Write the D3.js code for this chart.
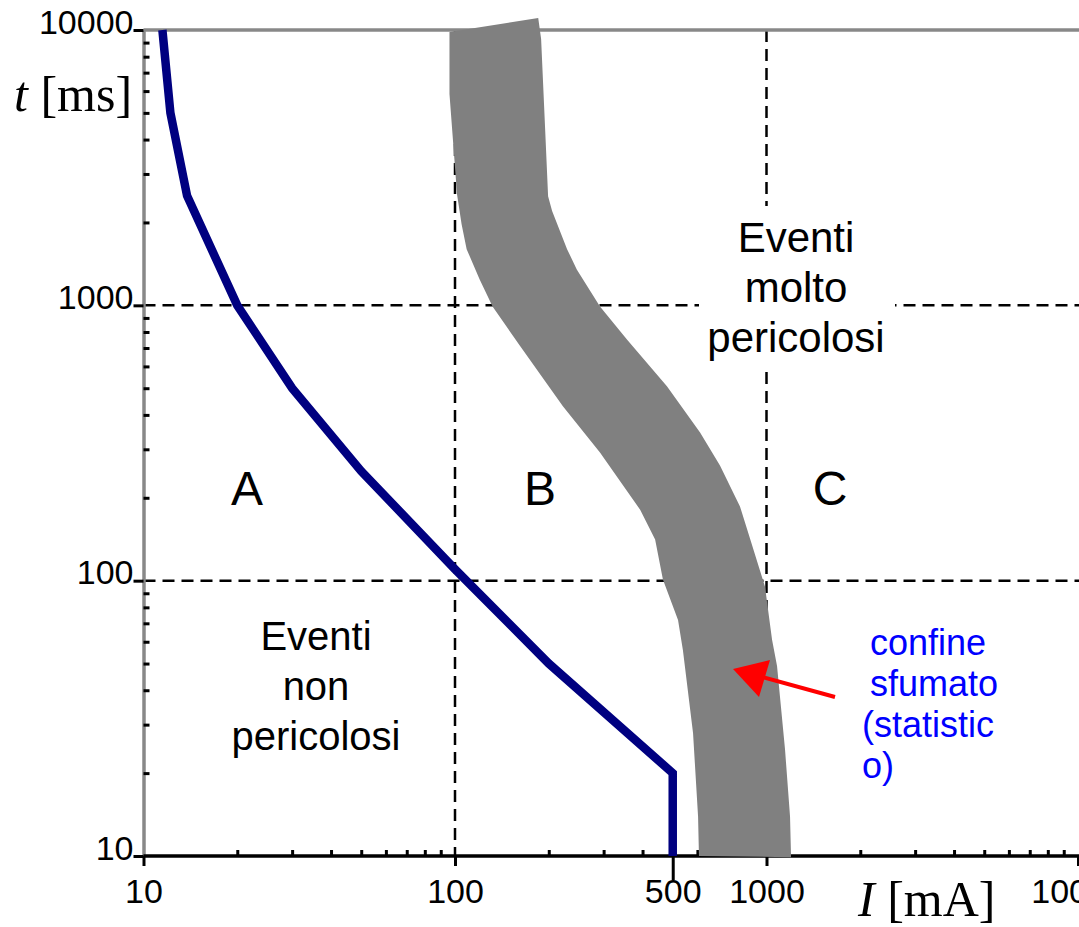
<!DOCTYPE html>
<html>
<head>
<meta charset="utf-8">
<script src="https://cdn.jsdelivr.net/npm/d3@7"></script>
<style>
  html, body { margin: 0; padding: 0; background: #fff; }
  svg { display: block; }
  .sans { font-family: "Liberation Sans", Arial, Helvetica, sans-serif; }
  .serif { font-family: "Liberation Serif", "Times New Roman", serif; }
</style>
</head>
<body>
<div id="chart"></div>
<script>
"use strict";
// curva di sicurezza (I in mA, t in ms)
const curveI = [11.5, 12.2, 13.8, 20, 30, 50, 100, 200, 500, 500];
const curveT = [10000, 5000, 2500, 1000, 500, 250, 110, 50, 20, 10];

// confine sfumato: bordo sinistro e bordo destro della fascia grigia
const bandLeftI = [96, 96, 99, 101.5, 105, 109, 120, 132, 162, 222, 292, 393, 439, 465, 520, 539, 581, 603, 607];
const bandLeftT = [9840, 5850, 3690, 2530, 1970, 1600, 1240, 990, 710, 430, 292, 181, 141, 101, 72, 56, 28, 13.9, 10];
const bandRightI = [185, 189, 194.5, 199, 205, 229, 246, 292, 357, 479, 612, 709, 822, 898, 989, 1042, 1081, 1147, 1190, 1199];
const bandRightT = [11060, 9280, 4480, 2490, 2200, 1600, 1350, 990, 750, 508, 345, 262, 186, 135, 95, 61, 49, 24.3, 13.9, 9.9];

// assi
const xMajor = [10, 100, 500, 1000, 10000];
const yMajor = [10, 100, 1000, 10000];
const xGrid = [100, 1000];
const yGrid = [100, 1000];

const W = 1079, H = 927;
const svg = d3.select("#chart").append("svg")
    .attr("width", W)
    .attr("height", H)
    .attr("viewBox", `0 0 ${W} ${H}`);

const x = d3.scaleLog().domain([10, 10000]).range([143.5, 1078]);
const y = d3.scaleLog().domain([10, 10000]).range([856, 30]);

const xMinor = x.ticks().filter(d => !xMajor.includes(d));
const yMinor = y.ticks().filter(d => !yMajor.includes(d));

// griglia tratteggiata
svg.append("g").selectAll("line").data(xGrid).join("line")
    .attr("x1", d => x(d)).attr("x2", d => x(d))
    .attr("y1", y(10000)).attr("y2", y(10))
    .attr("stroke", "#000").attr("stroke-width", 2.5).attr("stroke-dasharray", "12 7");
svg.append("g").selectAll("line").data(yGrid).join("line")
    .attr("x1", x(10)).attr("x2", W)
    .attr("y1", d => y(d)).attr("y2", d => y(d))
    .attr("stroke", "#000").attr("stroke-width", 2.5).attr("stroke-dasharray", "12 7");

// linea superiore grigia
svg.append("line")
    .attr("x1", x(10)).attr("x2", W)
    .attr("y1", y(10000)).attr("y2", y(10000))
    .attr("stroke", "#888").attr("stroke-width", 3.5);

// asse y
const yAxis = svg.append("g")
    .attr("class", "sans")
    .attr("transform", `translate(${x(10)},0)`)
    .call(d3.axisLeft(y).tickValues(yMajor).tickFormat(d3.format("d")).tickSize(10).tickSizeOuter(0));
yAxis.select(".domain").attr("stroke", "#888").attr("stroke-width", 3.5);
yAxis.selectAll(".tick line").attr("stroke-width", 3);
yAxis.selectAll(".tick text")
    .attr("x", -10).attr("dy", null).attr("y", 3)
    .attr("font-size", 34).attr("fill", "#000");
yAxis.attr("font-family", null);

svg.append("g")
    .attr("transform", `translate(${x(10)},0)`)
    .call(d3.axisRight(y).tickValues(yMinor).tickFormat("").tickSize(6).tickSizeOuter(0))
    .call(g => g.select(".domain").remove())
    .selectAll(".tick line").attr("stroke-width", 3);

// asse x
const xAxis = svg.append("g")
    .attr("class", "sans")
    .attr("transform", `translate(0,${y(10)})`)
    .call(d3.axisBottom(x).tickValues(xMajor).tickFormat(d3.format("d")).tickSize(10).tickSizeOuter(0));
xAxis.select(".domain").attr("stroke", "#000").attr("stroke-width", 3.5)
    .attr("d", `M${x(10)},0H${W}`);
xAxis.selectAll(".tick line").attr("stroke-width", 3)
    .attr("y2", d => d === 500 ? 24 : 10);
xAxis.selectAll(".tick text")
    .attr("y", 47).attr("dy", null)
    .attr("font-size", 34).attr("fill", "#000");
xAxis.attr("font-family", null);

svg.append("g")
    .attr("transform", `translate(0,${y(10)})`)
    .call(d3.axisTop(x).tickValues(xMinor).tickFormat("").tickSize(6).tickSizeOuter(0))
    .call(g => g.select(".domain").remove())
    .selectAll(".tick line").attr("stroke-width", 3);

// titoli assi
svg.append("text").attr("class", "serif")
    .attr("x", 14).attr("y", 111).attr("font-size", 50)
    .call(t => {
        t.append("tspan").attr("font-style", "italic").text("t");
        t.append("tspan").text(" [ms]");
    });
svg.append("text").attr("class", "serif")
    .attr("x", 858).attr("y", 916).attr("font-size", 50)
    .call(t => {
        t.append("tspan").attr("font-style", "italic").text("I");
        t.append("tspan").text(" [mA]");
    });

// fascia grigia
const bandPts = d3.zip(bandLeftI, bandLeftT)
    .concat(d3.zip(bandRightI, bandRightT).reverse());
svg.append("path")
    .attr("d", d3.line().x(d => x(d[0])).y(d => y(d[1]))(bandPts) + "Z")
    .attr("fill", "#808080");

// curva blu
svg.append("path")
    .datum(d3.zip(curveI, curveT))
    .attr("d", d3.line().x(d => x(d[0])).y(d => y(d[1])))
    .attr("fill", "none")
    .attr("stroke", "#000080")
    .attr("stroke-width", 8.5)
    .attr("stroke-linejoin", "miter");

// etichette delle zone
svg.append("rect")
    .attr("x", 699).attr("y", 206).attr("width", 196).attr("height", 166)
    .attr("fill", "#fff");

function multiline(lines, cx, y0, step, size, color) {
    svg.append("g").attr("class", "sans")
        .selectAll("text").data(lines).join("text")
        .attr("x", cx).attr("y", (d, i) => y0 + i * step)
        .attr("text-anchor", "middle")
        .attr("font-size", size)
        .attr("fill", color)
        .text(d => d);
}
multiline(["Eventi", "molto", "pericolosi"], 796, 252, 50, 42, "#000");
multiline(["Eventi", "non", "pericolosi"], 316, 650, 50, 40, "#000");
multiline(["A"], 247, 505, 0, 48, "#000");
multiline(["B"], 540, 505, 0, 48, "#000");
multiline(["C"], 830, 505, 0, 48, "#000");

const noteLines = ["confine", "sfumato", "(statistic", "o)"];
const noteX = [870, 870, 862, 862];
svg.append("g").attr("class", "sans")
    .selectAll("text").data(noteLines).join("text")
    .attr("x", (d, i) => noteX[i]).attr("y", (d, i) => 655 + i * 41)
    .attr("font-size", 36)
    .attr("fill", "#0000ff")
    .text(d => d);

// freccia rossa
svg.append("line")
    .attr("x1", 835).attr("y1", 697).attr("x2", 762).attr("y2", 677)
    .attr("stroke", "#ff0000").attr("stroke-width", 4);
svg.append("path")
    .attr("d", "M733,669L770,660L759,697Z")
    .attr("fill", "#ff0000");
</script>
</body>
</html>
